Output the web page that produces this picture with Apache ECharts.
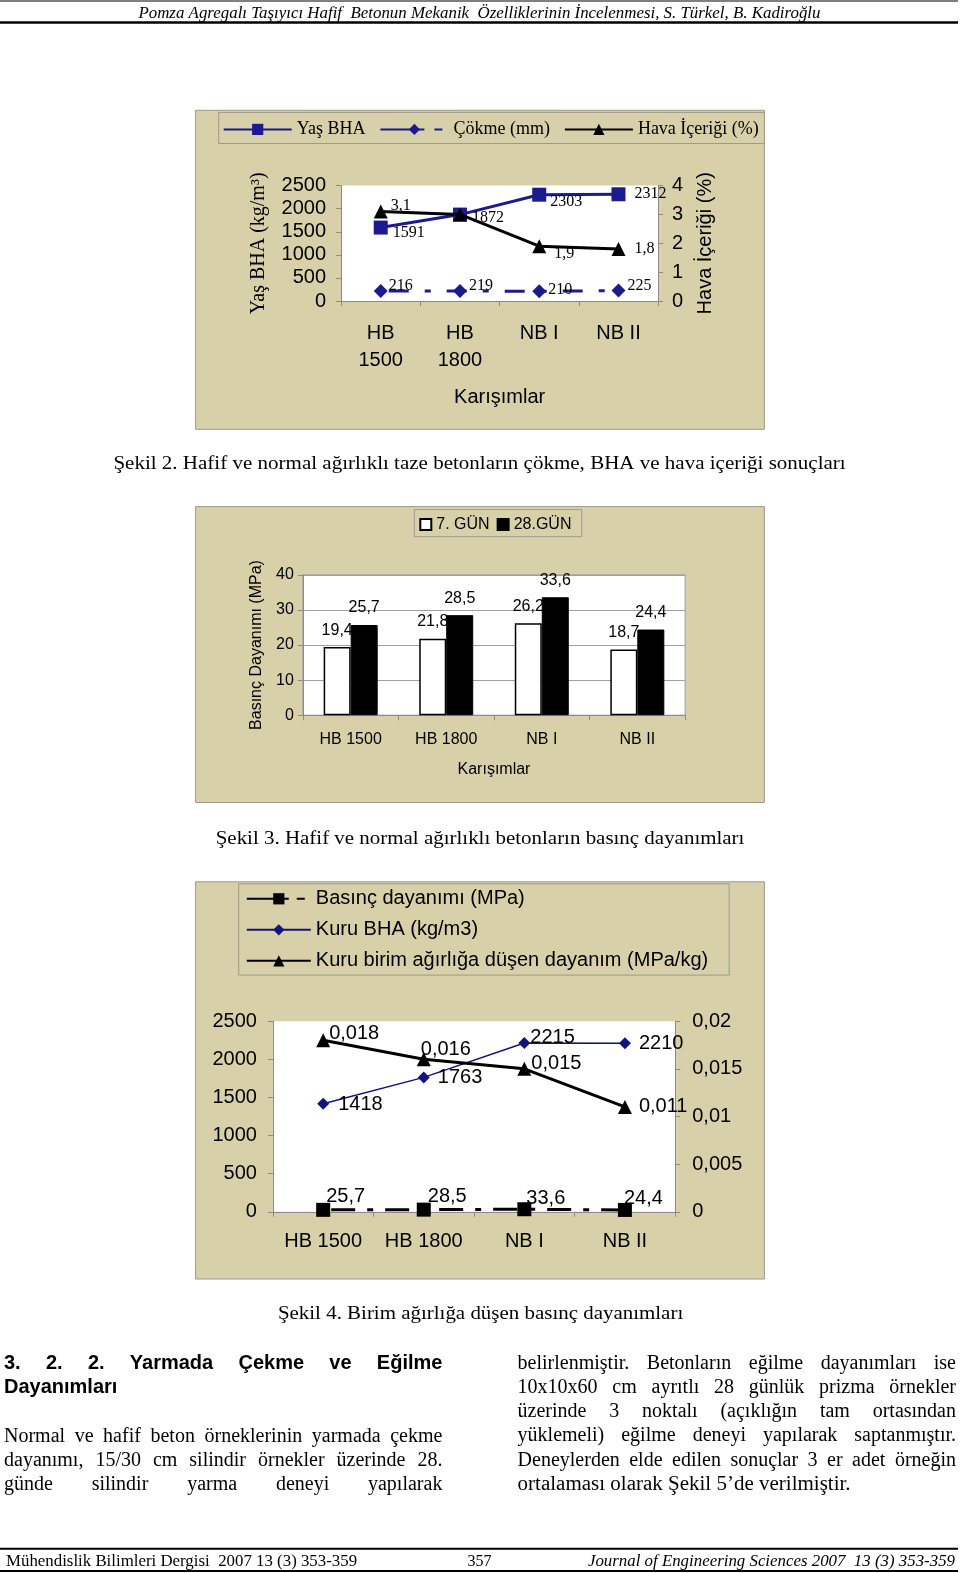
<!DOCTYPE html>
<html>
<head>
<meta charset="utf-8">
<script src="https://cdn.jsdelivr.net/npm/echarts@6/dist/echarts.min.js"></script>
<style>
html, body { margin: 0; padding: 0; background: #fff; }
#page { width: 960px; height: 1573px; }
</style>
</head>
<body>
<div id="page"></div>
<script>
// karışımlar (mixes) shared by all three charts
var mixes = ['HB 1500', 'HB 1800', 'NB I', 'NB II'];

// Şekil 2 - fresh concrete
var wetDensity = [1591, 1872, 2303, 2312];
var slump = [216, 219, 210, 225];
var airContent = [3.1, 3.0, 1.9, 1.8];
var wetDensityTicks = [0, 500, 1000, 1500, 2000, 2500];
var airTicks = [0, 1, 2, 3, 4];

// Şekil 3 - compressive strength
var strength7 = [19.4, 21.8, 26.2, 18.7];
var strength28 = [25.7, 28.5, 33.6, 24.4];
var strengthTicks = [0, 10, 20, 30, 40];

// Şekil 4 - strength per unit weight
var compStrength = [25.7, 28.5, 33.6, 24.4];
var dryDensity = [1418, 1763, 2215, 2210];
var specStrength = [0.018, 0.016, 0.015, 0.011];
var dryDensityTicks = [0, 500, 1000, 1500, 2000, 2500];
var specTicks = [0, 0.005, 0.01, 0.015, 0.02];

var SANS = 'Liberation Sans';
var SERIF = 'Liberation Serif';
var TAN = '#d7d0a9';
var NAVY = '#1b1b8f';
var AXIS = '#8a8a8a';

// layout was measured on a 957px wide preview of the page
var K = 960 / 957;
function px(v) { return Math.round(v * K * 10) / 10; }
var TEXT_DY = 2; // glyphs sit a little low in the scan

function comma(v) { return String(v).replace('.', ','); }
function plain(v) { return String(v); }
function range(t) { return { min: t[0], max: t[t.length - 1], interval: t[1] - t[0] }; }

// label nudges (styling only)
var offWet = [[0, 5], [0, 3], [-1, 7], [4, 0]];
var offSlump = [[-4, -5], [-3, -5], [-3, -2], [-3, -5]];
var offAir = [[-2, -6], null, [3, 8], [4, 0]];
var offComp = [[-9, -13], [-8, -13], [-10, -11], [-13, -11]];
var offDry = [[4, 1], [3, 0], [-5, -5], [3, 0]];
var offSpec = [[-6, -7], [-15, -10], [-5, -5], [2, 0]];

function withOffsets(vals, offs) {
  return vals.map(function (v, i) {
    if (!offs[i]) return { value: v, label: { show: false } };
    return { value: v, label: { offset: offs[i] } };
  });
}

// ---- text helpers ----
var mctx = document.createElement('canvas').getContext('2d');
function tw(s, font) { mctx.font = font; return mctx.measureText(s).width; }
function txt(s, x, y, font, align, width) {
  align = align || 'left';
  var el = {
    type: 'text', x: px(x), y: px(y) + TEXT_DY, z: 50, silent: true,
    style: { text: s, font: font, fill: '#000', textAlign: align, align: align,
             textVerticalAlign: 'middle', verticalAlign: 'middle' }
  };
  if (width) el.scaleX = px(width) / tw(s, font);
  return el;
}
function justified(s, x, y, width, font) {
  var words = s.split(/\s+/);
  var ws = words.map(function (w) { return tw(w, font); });
  var sum = ws.reduce(function (a, b) { return a + b; }, 0);
  var gap = (px(width) - sum) / (words.length - 1);
  var cx = px(x), out = [];
  words.forEach(function (w, i) {
    var e = txt(w, 0, y, font);
    e.x = cx;
    out.push(e);
    cx += ws[i] + gap;
  });
  return out;
}
function rect(x, y, w, h, fill, stroke, z) {
  return { type: 'rect', z: z, silent: true,
           shape: { x: px(x), y: px(y), width: px(w), height: px(h) },
           style: { fill: fill, stroke: stroke || null, lineWidth: stroke ? 1 : 0 } };
}
function hline(x1, x2, y, w) {
  return { type: 'line', z: 50, silent: true, shape: { x1: px(x1), y1: px(y), x2: px(x2), y2: px(y) },
           style: { stroke: '#000', lineWidth: w } };
}

var bodyFont = '20px "' + SERIF + '"';
var headFont = 'bold 20px "' + SANS + '"';
var capFont = '19px "' + SERIF + '"';

var graphics = [
  rect(195, 110, 567, 318, TAN, '#9a9a90', -10),
  rect(218, 112, 544, 31, TAN, '#9a9a90', -9),
  rect(195, 505, 567, 295, TAN, '#9a9a90', -10),
  rect(413, 508, 167, 27, TAN, '#9a9a90', -9),
  rect(195, 879, 567, 396, TAN, '#9a9a90', -10),
  rect(238, 881, 489, 91, TAN, '#9a9a90', -9),
  hline(0, 955, 1, 1),
  hline(0, 955, 22.5, 2.5),
  txt('Pomza Agregalı Taşıyıcı Hafif  Betonun Mekanik  Özelliklerinin İncelenmesi, S. Türkel, B. Kadiroğlu',
      138, 12, 'italic 16px "' + SERIF + '"', 'left', 680),
  txt('Şekil 2. Hafif ve normal ağırlıklı taze betonların çökme, BHA ve hava içeriği sonuçları', 113, 461, capFont, 'left', 730),
  txt('Şekil 3. Hafif ve normal ağırlıklı betonların basınç dayanımları', 215, 834, capFont, 'left', 527),
  txt('Şekil 4. Birim ağırlığa düşen basınç dayanımları', 277, 1308, capFont, 'left', 404),
  hline(0, 955, 1544, 2),
  hline(0, 955, 1566, 2),
  txt('Mühendislik Bilimleri Dergisi  2007 13 (3) 353-359', 6, 1555, '16px "' + SERIF + '"', 'left', 350),
  txt('357', 478, 1555, '16px "' + SERIF + '"', 'center'),
  txt('Journal of Engineering Sciences 2007  13 (3) 353-359', 952, 1555, 'italic 16px "' + SERIF + '"', 'right', 366),
  txt('Dayanımları', 4, 1381, headFont),
  txt('ortalaması olarak Şekil 5’de verilmiştir.', 516, 1478, bodyFont, 'left', 332)
];
graphics = graphics
  .concat(justified('3.  2.  2.  Yarmada  Çekme  ve  Eğilme', 4, 1357, 437, headFont))
  .concat(justified('Normal ve hafif beton örneklerinin yarmada çekme', 4, 1430, 437, bodyFont))
  .concat(justified('dayanımı, 15/30 cm silindir örnekler üzerinde 28.', 4, 1454, 437, bodyFont))
  .concat(justified('günde silindir yarma deneyi yapılarak', 4, 1478, 437, bodyFont))
  .concat(justified('belirlenmiştir. Betonların eğilme dayanımları ise', 516, 1357, 437, bodyFont))
  .concat(justified('10x10x60 cm ayrıtlı 28 günlük prizma örnekler', 516, 1381, 437, bodyFont))
  .concat(justified('üzerinde 3 noktalı (açıklığın tam ortasından', 516, 1405, 437, bodyFont))
  .concat(justified('yüklemeli) eğilme deneyi yapılarak saptanmıştır.', 516, 1429, 437, bodyFont))
  .concat(justified('Deneylerden elde edilen sonuçlar 3 er adet örneğin', 516, 1454, 437, bodyFont));

var axisLine = { show: true, lineStyle: { color: AXIS, width: 1 } };
var axisTick = { show: true, inside: false, length: 5, alignWithLabel: false, lineStyle: { color: AXIS } };
function catAxis(grid, size, margin, extra) {
  var a = {
    gridIndex: grid, type: 'category', data: mixes, boundaryGap: true,
    axisLine: axisLine, axisTick: axisTick, splitLine: { show: false },
    axisLabel: { interval: 0, fontFamily: SANS, fontSize: size, color: '#000', margin: margin }
  };
  return Object.assign(a, extra || {});
}
function valAxis(grid, ticks, size, margin, extra) {
  var r = range(ticks);
  var a = {
    gridIndex: grid, type: 'value', min: r.min, max: r.max, interval: r.interval,
    axisLine: axisLine, axisTick: axisTick, splitLine: { show: false },
    axisLabel: { fontFamily: SANS, fontSize: size, color: '#000', margin: margin, formatter: plain }
  };
  return Object.assign(a, extra || {});
}
function grid(l, t, w, h, extra) {
  return Object.assign({ left: px(l), top: px(t), width: px(w), height: px(h),
    show: true, backgroundColor: '#fff', borderWidth: 0 }, extra || {});
}

var serifLabel = { show: true, position: 'right', fontFamily: SERIF, fontSize: 16, color: '#000', formatter: function (p) { return comma(p.value); } };
var sansLabel20 = { show: true, position: 'right', fontFamily: SANS, fontSize: 20, color: '#000', formatter: function (p) { return comma(p.value); } };
var barLabel = { show: true, position: 'top', distance: 9, fontFamily: SANS, fontSize: 16, color: '#000', formatter: function (p) { return comma(p.value); } };

var option = {
  animation: false,
  backgroundColor: '#fff',
  graphic: { elements: graphics },
  grid: [
    grid(340, 185, 316, 115),
    grid(302, 573, 381, 140, { borderColor: '#a0a0a0', borderWidth: 1 }),
    grid(272, 1018, 401, 190)
  ],
  legend: [
    { data: ['Yaş BHA',
             { name: 'Çökme (mm)', lineStyle: { type: [44, 10, 8, 30], dashOffset: 0 } },
             'Hava İçeriği (%)'],
      left: px(222), top: px(120), padding: 0,
      itemWidth: 68, itemHeight: 14, itemGap: 14, selectedMode: false,
      textStyle: { fontFamily: SERIF, fontSize: 18, color: '#000' } },
    { data: ['7. GÜN', '28.GÜN'], left: px(418), top: px(515), padding: 0, icon: 'rect',
      itemWidth: 11, itemHeight: 11, itemGap: 7, selectedMode: false,
      textStyle: { fontFamily: SANS, fontSize: 16, color: '#000' } },
    { data: [{ name: 'Basınç dayanımı (MPa)', lineStyle: { type: [42, 8, 8, 30], dashOffset: 0 } },
             'Kuru BHA (kg/m3)', 'Kuru birim ağırlığa düşen dayanım (MPa/kg)'],
      orient: 'vertical', left: px(245), top: px(886), padding: 0,
      itemWidth: 64, itemHeight: 14, itemGap: 11, selectedMode: false,
      textStyle: { fontFamily: SANS, fontSize: 20, color: '#000' } }
  ],
  xAxis: [
    catAxis(0, 20, 19, {
      axisLabel: { interval: 0, fontFamily: SANS, fontSize: 20, color: '#000', margin: 19, lineHeight: 27,
        formatter: function (v) { return v.indexOf('HB') === 0 ? v.replace(' ', '\n') : v; } },
      name: 'Karışımlar', nameLocation: 'middle', nameGap: 86,
      nameTextStyle: { fontFamily: SANS, fontSize: 20, color: '#000' }
    }),
    catAxis(1, 16, 16, {
      name: 'Karışımlar', nameLocation: 'middle', nameGap: 46,
      nameTextStyle: { fontFamily: SANS, fontSize: 16, color: '#000' }
    }),
    catAxis(2, 20, 20)
  ],
  yAxis: [
    valAxis(0, wetDensityTicks, 20, 15, {
      name: 'Yaş BHA (kg/m³)', nameLocation: 'middle', nameRotate: 90, nameGap: 72,
      nameTextStyle: { fontFamily: SERIF, fontSize: 20, color: '#000' }
    }),
    valAxis(0, airTicks, 20, 14, {
      position: 'right',
      name: 'Hava İçeriği (%)', nameLocation: 'middle', nameRotate: 90, nameGap: 37,
      nameTextStyle: { fontFamily: SANS, fontSize: 20, color: '#000' }
    }),
    valAxis(1, strengthTicks, 16, 9, {
      splitLine: { show: true, lineStyle: { color: '#a0a0a0', width: 1 } },
      name: 'Basınç Dayanımı (MPa)', nameLocation: 'middle', nameRotate: 90, nameGap: 38,
      nameTextStyle: { fontFamily: SANS, fontSize: 16, color: '#000' }
    }),
    valAxis(2, dryDensityTicks, 20, 16),
    valAxis(2, specTicks, 20, 17, {
      position: 'right',
      axisLabel: { fontFamily: SANS, fontSize: 20, color: '#000', margin: 17, formatter: comma }
    })
  ],
  series: [
    { name: 'Yaş BHA', type: 'line', xAxisIndex: 0, yAxisIndex: 0,
      data: withOffsets(wetDensity, offWet), symbol: 'rect', symbolSize: 14,
      itemStyle: { color: NAVY }, lineStyle: { color: NAVY, width: 3 }, label: serifLabel, z: 3 },
    { name: 'Çökme (mm)', type: 'line', xAxisIndex: 0, yAxisIndex: 0,
      data: withOffsets(slump, offSlump), symbol: 'diamond', symbolSize: 14,
      itemStyle: { color: NAVY }, lineStyle: { color: NAVY, width: 3, type: [20, 16, 6, 16], dashOffset: -8 },
      label: serifLabel, z: 3 },
    { name: 'Hava İçeriği (%)', type: 'line', xAxisIndex: 0, yAxisIndex: 1,
      data: withOffsets(airContent, offAir), symbol: 'triangle', symbolSize: 14,
      itemStyle: { color: '#000' }, lineStyle: { color: '#000', width: 3 }, label: serifLabel, z: 4 },

    { name: '7. GÜN', type: 'bar', xAxisIndex: 1, yAxisIndex: 2, data: strength7,
      barWidth: 27, barGap: '0%',
      itemStyle: { color: '#fff', borderColor: '#000', borderWidth: 1.5 }, label: barLabel },
    { name: '28.GÜN', type: 'bar', xAxisIndex: 1, yAxisIndex: 2, data: strength28,
      barWidth: 27, barGap: '0%',
      itemStyle: { color: '#000', borderColor: '#000', borderWidth: 1 }, label: barLabel },

    { name: 'Basınç dayanımı (MPa)', type: 'line', xAxisIndex: 2, yAxisIndex: 3,
      data: withOffsets(compStrength, offComp), symbol: 'rect', symbolSize: 14,
      itemStyle: { color: '#000' }, lineStyle: { color: '#000', width: 3, type: [24, 12, 6, 12], dashOffset: -8 },
      label: sansLabel20, z: 3 },
    { name: 'Kuru BHA (kg/m3)', type: 'line', xAxisIndex: 2, yAxisIndex: 3,
      data: withOffsets(dryDensity, offDry), symbol: 'diamond', symbolSize: 12,
      itemStyle: { color: '#13137f' }, lineStyle: { color: '#13137f', width: 1.5 }, label: sansLabel20, z: 3 },
    { name: 'Kuru birim ağırlığa düşen dayanım (MPa/kg)', type: 'line', xAxisIndex: 2, yAxisIndex: 4,
      data: withOffsets(specStrength, offSpec), symbol: 'triangle', symbolSize: 14,
      itemStyle: { color: '#000' }, lineStyle: { color: '#000', width: 3 }, label: sansLabel20, z: 4 }
  ]
};

var chart = echarts.init(document.getElementById('page'), null, { renderer: 'canvas' });
chart.setOption(option);
</script>
</body>
</html>
